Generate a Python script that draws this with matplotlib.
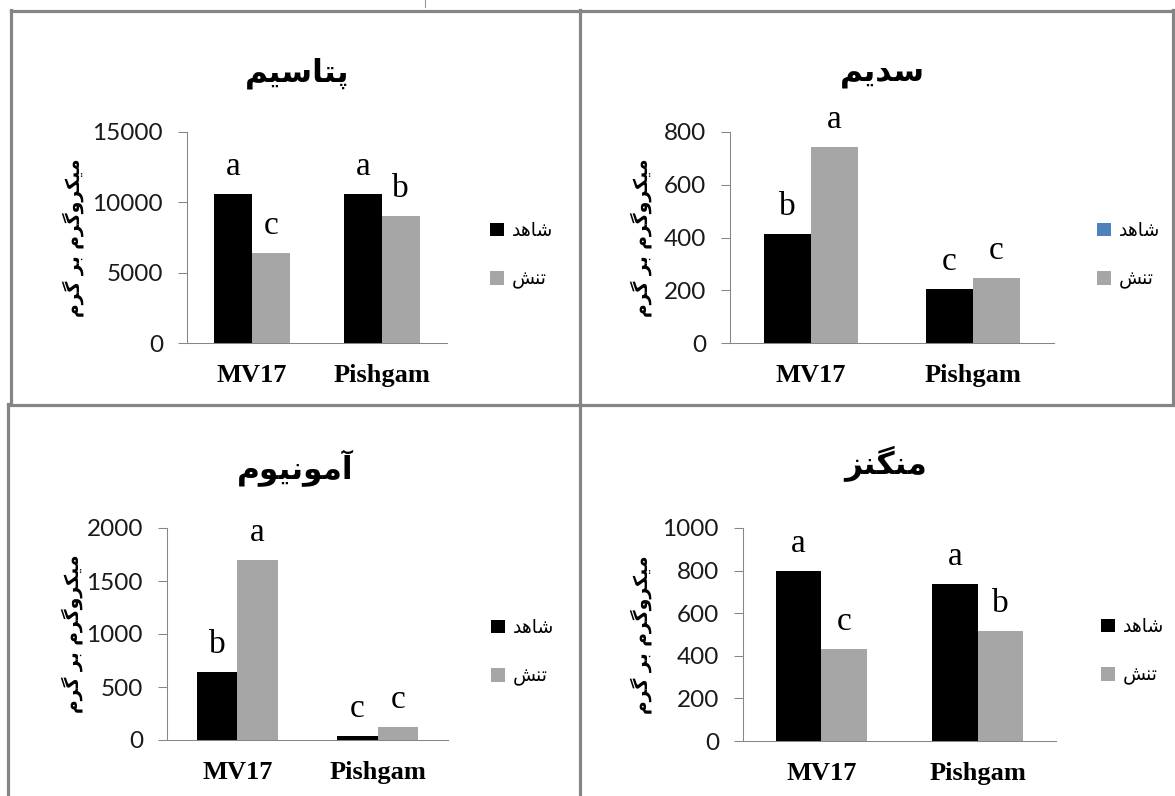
import numpy as np
import matplotlib
matplotlib.use("Agg")
import matplotlib.pyplot as plt
from matplotlib.lines import Line2D
from matplotlib.patches import Patch

# data
categories = ["MV17", "Pishgam"]
legend_labels = ["شاهد", "تنش"]
y_label = "میکروگرم بر گرم"

potassium_title = "پتاسیم"
potassium_control = [10600, 10600]
potassium_stress = [6400, 9000]
potassium_letters_control = ["a", "a"]
potassium_letters_stress = ["c", "b"]

sodium_title = "سدیم"
sodium_control = [415, 205]
sodium_stress = [745, 245]
sodium_letters_control = ["b", "c"]
sodium_letters_stress = ["a", "c"]

ammonium_title = "آمونیوم"
ammonium_control = [640, 35]
ammonium_stress = [1700, 120]
ammonium_letters_control = ["b", "c"]
ammonium_letters_stress = ["a", "c"]

manganese_title = "منگنز"
manganese_control = [800, 735]
manganese_stress = [430, 515]
manganese_letters_control = ["a", "a"]
manganese_letters_stress = ["c", "b"]

# --- minimal Persian shaping (matplotlib does not shape Arabic script) ---
FORMS = {
    "ا": ("\uFE8D", "\uFE8E", None, None),
    "آ": ("\uFE81", "\uFE82", None, None),
    "ب": ("\uFE8F", "\uFE90", "\uFE91", "\uFE92"),
    "پ": ("\uFB56", "\uFB57", "\uFB58", "\uFB59"),
    "ت": ("\uFE95", "\uFE96", "\uFE97", "\uFE98"),
    "د": ("\uFEA9", "\uFEAA", None, None),
    "ر": ("\uFEAD", "\uFEAE", None, None),
    "ز": ("\uFEAF", "\uFEB0", None, None),
    "س": ("\uFEB1", "\uFEB2", "\uFEB3", "\uFEB4"),
    "ش": ("\uFEB5", "\uFEB6", "\uFEB7", "\uFEB8"),
    "ک": ("\uFB8E", "\uFB8F", "\uFB90", "\uFB91"),
    "گ": ("\uFB92", "\uFB93", "\uFB94", "\uFB95"),
    "م": ("\uFEE1", "\uFEE2", "\uFEE3", "\uFEE4"),
    "ن": ("\uFEE5", "\uFEE6", "\uFEE7", "\uFEE8"),
    "و": ("\uFEED", "\uFEEE", None, None),
    "ه": ("\uFEE9", "\uFEEA", "\uFEEB", "\uFEEC"),
    "ی": ("\uFBFC", "\uFBFD", "\uFBFE", "\uFBFF"),
}


def dual(ch):
    return ch in FORMS and FORMS[ch][2] is not None


def shape(text):
    out = []
    for i, ch in enumerate(text):
        if ch not in FORMS:
            out.append(ch)
            continue
        prev = text[i - 1] if i > 0 else ""
        nxt = text[i + 1] if i + 1 < len(text) else ""
        link_prev = dual(prev)
        link_next = dual(ch) and nxt in FORMS
        iso, fin, ini, med = FORMS[ch]
        if link_prev and link_next:
            out.append(med)
        elif link_prev:
            out.append(fin)
        elif link_next:
            out.append(ini)
        else:
            out.append(iso)
    return "".join(out)[::-1]


W, H = 1175, 796
GRAY = "#A6A6A6"
AXIS = "#868686"
PERSIAN = ["DejaVu Sans"]

fig = plt.figure(figsize=(W / 100, H / 100), dpi=100)


def fx(x):
    return x / W


def fy(y):
    return 1 - y / H


def panel(box, title, title_xy, control, stress, lc, ls, ymax, step,
          ylabel_x, legend_xy, legend_colors):
    l, t, r, b = box
    ax = fig.add_axes([fx(l), fy(b), fx(r - l), (b - t) / H])
    x = np.arange(len(categories))
    w = 0.29
    ax.bar(x - w / 2, control, w, color="black")
    ax.bar(x + w / 2, stress, w, color=GRAY)
    for xi, v, s in zip(x - w / 2, control, lc):
        ax.annotate(s, (xi, v), xytext=(0, 19), textcoords="offset pixels",
                    ha="center", va="baseline", fontsize=24,
                    family="Liberation Serif")
    for xi, v, s in zip(x + w / 2, stress, ls):
        ax.annotate(s, (xi, v), xytext=(0, 19), textcoords="offset pixels",
                    ha="center", va="baseline", fontsize=24,
                    family="Liberation Serif")
    ax.set_xlim(-0.5, 1.5)
    ax.set_ylim(0, ymax)
    ax.set_yticks(np.arange(0, ymax + 1, step))
    ax.set_xticks(x, categories, fontfamily="Liberation Serif",
                  fontweight="bold", fontsize=19)
    for lbl in ax.get_yticklabels():
        lbl.set_fontfamily("Lato")
        lbl.set_fontsize(17.5)
    ax.tick_params(axis="y", length=6.8, width=0.75, color=AXIS, pad=10.5,
                   labelcolor="#1A1A1A")
    ax.tick_params(axis="x", length=0, pad=15)
    for side in ["top", "right"]:
        ax.spines[side].set_visible(False)
    for side in ["left", "bottom"]:
        ax.spines[side].set_color(AXIS)
        ax.spines[side].set_linewidth(0.75)
    ax.patch.set_alpha(0)

    fig.text(fx(title_xy[0]), fy(title_xy[1]), shape(title), ha="center",
             va="center", fontsize=22.5, fontweight="bold", family=PERSIAN)
    fig.text(fx(ylabel_x), fy((t + b) / 2), shape(y_label), ha="center",
             va="center", rotation=90, fontsize=13.5, fontweight="bold",
             family=PERSIAN)
    handles = [Patch(facecolor=c) for c in legend_colors]
    ax.legend(handles, [shape(s) for s in legend_labels], loc="center left",
              bbox_to_anchor=(fx(legend_xy[0]), fy(legend_xy[1])),
              bbox_transform=fig.transFigure, frameon=False, borderpad=0,
              borderaxespad=0, handlelength=0.75, handleheight=0.75,
              handletextpad=0.43, labelspacing=1.55,
              prop={"family": PERSIAN, "size": 13.5})
    return ax


panel((187, 132, 447, 343), potassium_title, (297, 73), potassium_control,
      potassium_stress, potassium_letters_control, potassium_letters_stress,
      15000, 5000, 73, (490, 255), ["black", GRAY])
panel((730, 132, 1054, 343), sodium_title, (882, 73), sodium_control,
      sodium_stress, sodium_letters_control, sodium_letters_stress,
      800, 200, 641, (1097, 255), ["#4F81BD", GRAY])
panel((167, 528, 448, 740), ammonium_title, (295, 468), ammonium_control,
      ammonium_stress, ammonium_letters_control, ammonium_letters_stress,
      2000, 500, 72, (491, 652), ["black", GRAY])
panel((743, 528, 1056, 741), manganese_title, (886, 464), manganese_control,
      manganese_stress, manganese_letters_control, manganese_letters_stress,
      1000, 200, 641, (1101, 651), ["black", GRAY])

# panel frames
BORDER = "#858585"
frame_lines = [
    ((11, 1175), (10.5, 10.5)),
    ((11, 11), (10, 404)),
    ((8, 8), (404, 796)),
    ((580, 580), (10, 796)),
    ((8, 1175), (404.5, 404.5)),
    ((1173, 1173), (10, 404)),
]
for xs, ys in frame_lines:
    fig.add_artist(Line2D([fx(v) for v in xs], [fy(v) for v in ys],
                          color=BORDER, linewidth=2.3))
fig.add_artist(Line2D([fx(425), fx(425)], [fy(0), fy(7)], color="#999999",
                      linewidth=0.8))

fig.savefig("out.png", dpi=100)
